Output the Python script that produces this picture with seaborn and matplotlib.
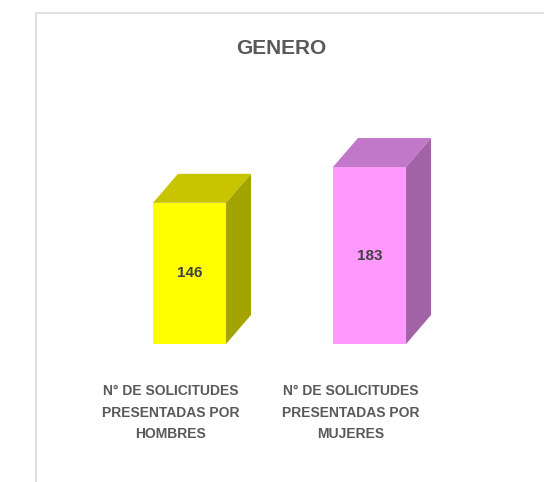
import matplotlib
matplotlib.use("Agg")
import matplotlib.pyplot as plt
import matplotlib.transforms as mtransforms
from matplotlib.patches import Polygon
from matplotlib.lines import Line2D
import seaborn as sns
import pandas as pd

categories = ["N° DE SOLICITUDES\nPRESENTADAS POR\nHOMBRES",
              "N° DE SOLICITUDES\nPRESENTADAS POR\nMUJERES"]
values = [146, 183]
front_colors = ["#FFFF00", "#FF99FF"]
top_colors = ["#C8C400", "#C278C8"]
side_colors = ["#A4A400", "#A262A6"]
title = "GENERO"

sns.set_theme(style="white")
plt.rcParams['font.family'] = ['Liberation Sans', 'DejaVu Sans']

W, H = 544, 482
fig = plt.figure(figsize=(W / 100, H / 100), dpi=100)
fig.patch.set_facecolor("white")

# axes placement (pixels)
ax_left, ax_right = 36, 544
ax_base, ax_top = 344, 60
ax = fig.add_axes([ax_left / W, (H - ax_base) / H, (ax_right - ax_left) / W, (ax_base - ax_top) / H])

df = pd.DataFrame({"cat": categories, "val": values})
sns.barplot(data=df, x="cat", y="val", hue="cat", palette=front_colors,
            width=0.406, legend=False, ax=ax, saturation=1, linewidth=0)

px_per_x = 180.0
x_lo = -(189.5 - ax_left) / px_per_x
ax.set_xlim(x_lo, x_lo + (ax_right - ax_left) / px_per_x)
px_per_y = 0.967
ax.set_ylim(0, (ax_base - ax_top) / px_per_y)

# 3D depth
ddx = 25 / px_per_x
ddy = 29 / px_per_y
for p, tc, sc, v in zip(ax.patches, top_colors, side_colors, values):
    x0 = p.get_x()
    x1 = x0 + p.get_width()
    h = p.get_height()
    top = Polygon([(x0, h), (x1, h), (x1 + ddx, h + ddy), (x0 + ddx, h + ddy)],
                  closed=True, facecolor=tc, edgecolor="none", clip_on=False, zorder=1)
    side = Polygon([(x1, 0), (x1 + ddx, ddy), (x1 + ddx, h + ddy), (x1, h)],
                   closed=True, facecolor=sc, edgecolor="none", clip_on=False, zorder=1)
    ax.add_patch(top)
    ax.add_patch(side)
    ax.text((x0 + x1) / 2, h / 2, str(v), ha="center", va="center",
            fontsize=11, fontweight="bold", color="#404040", zorder=5)

for sp in ax.spines.values():
    sp.set_visible(False)
ax.set_yticks([])
ax.set_xlabel("")
ax.set_ylabel("")
ax.tick_params(axis="x", length=0, pad=29)
offset = mtransforms.ScaledTranslation(-19 / 100, 0, fig.dpi_scale_trans)
for lab in ax.get_xticklabels():
    lab.set_fontsize(10)
    lab.set_fontweight("bold")
    lab.set_color("#595959")
    lab.set_linespacing(1.68)
    lab.set_transform(lab.get_transform() + offset)
ax.patch.set_alpha(0)

fig.text(281 / W, 1 - 48 / H, title, ha="center", va="center",
         fontsize=15, fontweight="bold", color="#595959")

# chart frame
fig.add_artist(Line2D([36 / W, 36 / W], [0, 1 - 12.5 / H], color="#d9d9d9", lw=1.2))
fig.add_artist(Line2D([36 / W, 1], [1 - 12.5 / H, 1 - 12.5 / H], color="#d9d9d9", lw=1.2))

fig.savefig("out.png", dpi=100, facecolor="white")
